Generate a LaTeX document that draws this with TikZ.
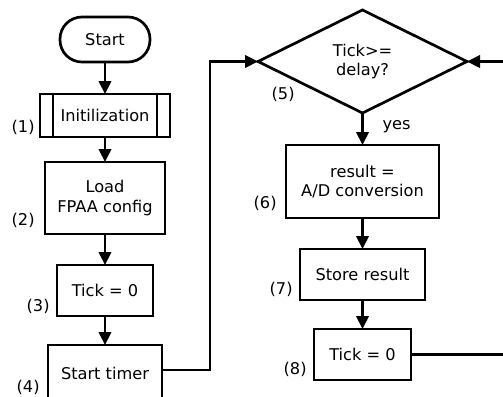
\documentclass[tikz,border=0pt]{standalone}
\usepackage{fontspec}
\setmainfont{DejaVu Sans}
\usetikzlibrary{shapes.geometric,arrows.meta}
\begin{document}
\begin{tikzpicture}[x=0.5pt,y=-0.5pt,
  every node/.style={font=\fontsize{8.1}{9.8}\selectfont},
  box/.style={draw,line width=1.35pt,rectangle,outer sep=0pt,inner sep=0pt,align=center},
  term/.style={box,rounded corners=11pt},
  decide/.style={draw,line width=1.35pt,diamond,aspect=2.03,inner sep=0pt,outer sep=0pt,align=center},
  flow/.style={line width=1.35pt,-{Triangle[length=6.5pt,width=6.2pt]}},
  tag/.style={anchor=east,inner sep=0pt}]
\useasboundingbox[fill=white] (0,0) rectangle (503,396);
\clip (0,0) rectangle (503,396);

% left column
\node[term, minimum width=45pt, minimum height=22.5pt] (start) at (105,39.5) {Start};
\node[box, minimum width=65pt, minimum height=21.5pt] (init) at (105,115.5) {Initilization};
\draw[line width=1.35pt] ([xshift=6.5pt]init.north west) -- ([xshift=6.5pt]init.south west)
                         ([xshift=-6.5pt]init.north east) -- ([xshift=-6.5pt]init.south east);
\node[box, minimum width=60pt, minimum height=36pt] (load) at (105,198) {Load\\FPAA config};
\node[box, minimum width=48pt, minimum height=25.5pt] (tickA) at (105,290.5) {Tick = 0};
\node[box, minimum width=57pt, minimum height=28pt] (timer) at (105,373) {Start timer};

% right column
\node[decide, minimum width=104.5pt, minimum height=51.5pt] (cond) at (362.5,61.5) {Tick>=\\delay?};
\node[box, minimum width=76.5pt, minimum height=36.5pt] (result) at (362.5,181.5) {result =\\A/D conversion};
\node[box, minimum width=62.5pt, minimum height=25.5pt] (store) at (362.5,274.5) {Store result};
\node[box, minimum width=48.5pt, minimum height=25.5pt] (tickB) at (362.5,354.5) {Tick = 0};

% step numbers
\node[tag] (n1) at (35,127) {(1)};
\node[tag] (n2) at (35,220) {(2)};
\node[tag] (n3) at (50,306) {(3)};
\node[tag] (n4) at (40,387) {(4)};
\node[tag] (n5) at (295,94) {(5)};
\node[tag] (n6) at (277,203) {(6)};
\node[tag] (n7) at (293,289) {(7)};
\node[tag] (n8) at (307,369) {(8)};

% connectors
\coordinate (jA) at (210,61.5);
\coordinate (jB) at (520,354.5);
\coordinate (tA) at (162,370);
\draw[flow] (start) -- (init);
\draw[flow] (init) -- (load);
\draw[flow] (load) -- (tickA);
\draw[flow] (tickA) -- (timer);
\draw[flow] (timer.east |- tA) -| (jA) -- (cond.west);
\draw[flow] (cond.south) -- node[right, xshift=6pt, yshift=1pt] (yes) {yes} (result.north);
\draw[flow] (result) -- (store);
\draw[flow] (store) -- (tickB);
\draw[flow] (tickB.east) -- (jB) |- (cond.east);
\end{tikzpicture}
\end{document}
